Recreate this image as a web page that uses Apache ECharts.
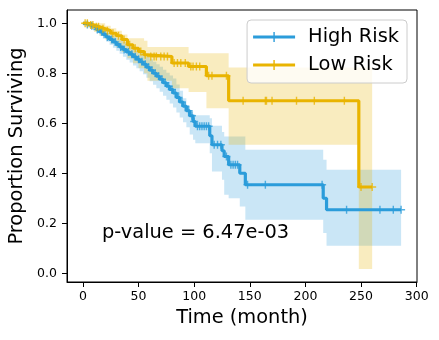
<!DOCTYPE html>
<html>
<head>
<meta charset="utf-8">
<title>Survival</title>
<script src="https://cdn.jsdelivr.net/npm/echarts@6/dist/echarts.min.js"></script>
<style>
  html, body { margin: 0; padding: 0; background: #fff; }
  #main { width: 439px; height: 340px; }
</style>
</head>
<body>
<div id="main"></div>
<script type="text/javascript">
// High risk group: step times, survival, confidence band
var highTime  = [0,3,6,9,12,15,18,21,24,27,30,33,36,39,42,45,48,51,54,57,60,63,66,69,72,75,78,81,84,87,90,93,96,99,101,114,116,125,127,131,141,146,216,219,286];
var highSurv  = [1.0,0.995,0.99,0.985,0.975,0.965,0.955,0.945,0.935,0.925,0.915,0.905,0.895,0.885,0.876,0.866,0.856,0.846,0.836,0.824,0.812,0.8,0.788,0.776,0.762,0.748,0.735,0.721,0.703,0.685,0.668,0.65,0.63,0.607,0.588,0.55,0.514,0.49,0.467,0.434,0.40,0.354,0.30,0.254,0.254];
var highLower = [1.0,0.99,0.982,0.975,0.962,0.95,0.938,0.926,0.914,0.902,0.89,0.878,0.866,0.854,0.843,0.831,0.82,0.808,0.796,0.782,0.768,0.754,0.74,0.726,0.71,0.694,0.679,0.663,0.643,0.623,0.604,0.584,0.555,0.534,0.52,0.48,0.407,0.374,0.314,0.30,0.267,0.214,0.161,0.11,0.11];
var highUpper = [1.0,1.0,0.998,0.995,0.988,0.98,0.972,0.964,0.956,0.948,0.94,0.932,0.924,0.916,0.909,0.901,0.892,0.884,0.876,0.866,0.856,0.846,0.836,0.826,0.814,0.802,0.791,0.779,0.755,0.73,0.70,0.67,0.65,0.636,0.632,0.62,0.59,0.565,0.547,0.547,0.547,0.494,0.454,0.414,0.414];
var highCensor = [4,8,13,17,22,26,29,34,37,41,44,47,50,53,56,59,62,65,68,71,74,77,80,83,86,89,92,95,98,100,103,105,107,109,111,113,118,121,124,129,133,135,137,139,148,164,215,237,267,279,286];

// Low risk group
var lowTime  = [0,5,10,15,20,25,30,35,40,45,50,55,58,80,95,111,131,248,260];
var lowSurv  = [1.0,0.993,0.986,0.978,0.97,0.96,0.95,0.935,0.914,0.9,0.887,0.874,0.867,0.841,0.827,0.79,0.69,0.345,0.345];
var lowLower = [1.0,0.98,0.965,0.95,0.935,0.92,0.905,0.885,0.86,0.84,0.82,0.8,0.77,0.74,0.725,0.66,0.514,0.017,0.017];
var lowUpper = [1.0,1.0,1.0,1.0,0.99,0.98,0.97,0.955,0.94,0.94,0.94,0.93,0.905,0.905,0.88,0.88,0.823,0.823,0.823];
var lowCensor = [2,4,7,9,12,14,18,22,27,32,37,42,47,52,56,61,64,66,70,73,76,82,85,88,92,97,99,102,105,113,116,129,144,164,165,170,192,208,235,250,260];

var xTicks = [0, 50, 100, 150, 200, 250, 300];
var yTicks = [0, 0.2, 0.4, 0.6, 0.8, 1.0];
var pValueText = 'p-value = 6.47e-03';

var blue = '#2B9CDA';
var gold = '#E9B400';
var font = 'DejaVu Sans';

function pairs(times, vals) {
  return times.map(function (t, i) { return [t, vals[i]]; });
}
function stepAt(times, vals, t) {
  var v = vals[0];
  for (var i = 0; i < times.length; i++) {
    if (times[i] <= t) v = vals[i];
  }
  return v;
}
function censorPts(cens, times, vals) {
  return cens.map(function (t) { return [t, stepAt(times, vals, t)]; });
}

var plusIcon = 'path://M3.3,0h1.4v8h-1.4z M0,3.3h8v1.4h-8z';
var legendIcon = 'path://M0,3.4h42v3.2h-42z M20.3,0h1.4v10h-1.4z';

// confidence band as one stepped polygon, placed through the axis scales
function bandSeries(name, times, lo, hi, color) {
  return {
    name: name + ' band', type: 'custom', silent: true, z: 1, clip: true,
    data: [[times[0], hi[0]]],
    encode: { x: 0, y: 1 },
    renderItem: function (params, api) {
      var pts = [];
      var n = times.length;
      for (var i = 0; i < n - 1; i++) {
        pts.push(api.coord([times[i], hi[i]]));
        pts.push(api.coord([times[i + 1], hi[i]]));
      }
      for (var j = n - 2; j >= 0; j--) {
        pts.push(api.coord([times[j + 1], lo[j]]));
        pts.push(api.coord([times[j], lo[j]]));
      }
      return { type: 'polygon', shape: { points: pts }, style: { fill: color } };
    }
  };
}

var series = [
  bandSeries('High Risk', highTime, highLower, highUpper, 'rgba(43,156,218,0.25)'),
  bandSeries('Low Risk', lowTime, lowLower, lowUpper, 'rgba(233,180,0,0.25)'),
  {
    name: 'High Risk', type: 'line', step: 'end', data: pairs(highTime, highSurv),
    symbol: 'none', z: 3, itemStyle: { color: blue },
    lineStyle: { color: blue, width: 3.2 }
  },
  {
    name: 'Low Risk', type: 'line', step: 'end', data: pairs(lowTime, lowSurv),
    symbol: 'none', z: 3, itemStyle: { color: gold },
    lineStyle: { color: gold, width: 3.2 }
  },
  {
    name: 'High Risk censored', type: 'scatter', data: censorPts(highCensor, highTime, highSurv),
    symbol: plusIcon, symbolSize: 8, z: 4, itemStyle: { color: blue }
  },
  {
    name: 'Low Risk censored', type: 'scatter', data: censorPts(lowCensor, lowTime, lowSurv),
    symbol: plusIcon, symbolSize: 8, z: 4, itemStyle: { color: gold }
  }
];

var myChart = echarts.init(document.getElementById('main'), null, { renderer: 'canvas' });

var option = {
  backgroundColor: '#fff',
  animation: false,
  textStyle: { fontFamily: font },
  grid: {
    left: 67, right: 22, top: 10, bottom: 58,
    show: true, borderColor: '#000', borderWidth: 1,
    outerBoundsMode: 'none'
  },
  legend: {
    orient: 'vertical',
    right: 32, top: 20,
    data: [
      { name: 'High Risk', icon: legendIcon },
      { name: 'Low Risk', icon: legendIcon }
    ],
    itemWidth: 42, itemHeight: 10, itemGap: 6,
    padding: [6, 8, 7, 6],
    backgroundColor: 'rgba(255,255,255,0.8)',
    borderColor: '#cccccc', borderWidth: 1, borderRadius: 4,
    selectedMode: false,
    textStyle: { fontFamily: font, fontSize: 19.4, color: '#000', lineHeight: 22, padding: [0, 0, 0, 8] }
  },
  xAxis: {
    type: 'value', min: -14.3, max: 300.3,
    name: 'Time (month)', nameLocation: 'middle', nameGap: 26,
    nameTextStyle: { fontFamily: font, fontSize: 19.4, color: '#000' },
    axisLine: { show: true, onZero: false, lineStyle: { color: '#000', width: 1 } },
    axisTick: { show: true, length: 5, lineStyle: { color: '#000' }, customValues: xTicks },
    axisLabel: { margin: 8, fontFamily: font, fontSize: 12.5, color: '#000', customValues: xTicks },
    splitLine: { show: false }
  },
  yAxis: {
    type: 'value', min: -0.035, max: 1.053,
    name: 'Proportion Surviving', nameLocation: 'middle', nameGap: 40,
    nameTextStyle: { fontFamily: font, fontSize: 19.4, color: '#000' },
    axisLine: { show: true, onZero: false, lineStyle: { color: '#000', width: 1 } },
    axisTick: { show: true, length: 5, lineStyle: { color: '#000' }, customValues: yTicks },
    axisLabel: {
      margin: 10, fontFamily: font, fontSize: 12.5, color: '#000', customValues: yTicks,
      formatter: function (v) { return v.toFixed(1); }
    },
    splitLine: { show: false }
  },
  graphic: [
    {
      type: 'text', left: 102, top: 223, silent: true,
      style: { text: pValueText, font: '19.4px "DejaVu Sans"', fill: '#000' }
    }
  ],
  series: series
};

myChart.setOption(option);
</script>
</body>
</html>
